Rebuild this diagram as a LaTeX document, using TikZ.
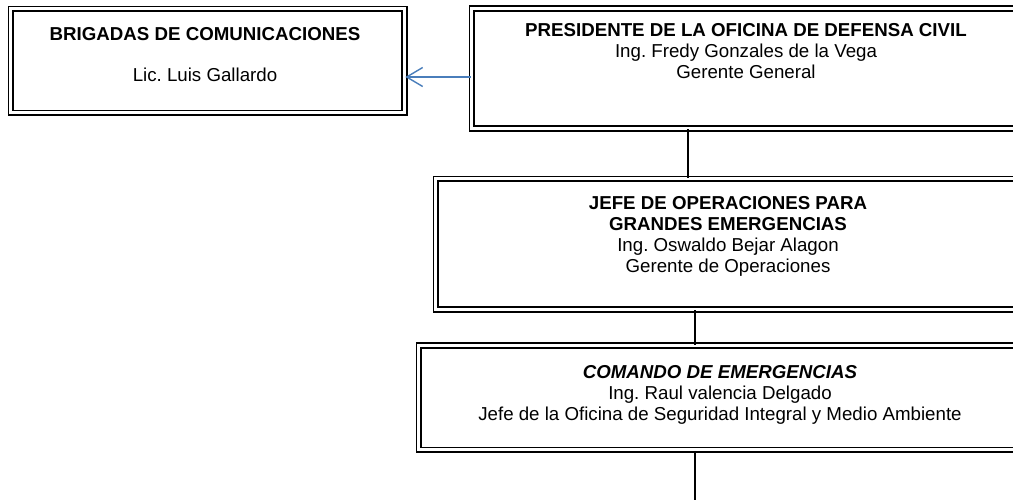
\documentclass[tikz,border=0pt]{standalone}
\usepackage{fontspec}
\setmainfont{Liberation Sans}
\usetikzlibrary{arrows.meta}
\definecolor{arrowblue}{HTML}{4A7EBB}
\frenchspacing
\begin{document}
\begin{tikzpicture}[x=1pt,y=-1pt,
  boxstyle/.style={draw=black, double=white, double distance=3pt, line width=1.8pt,
    rectangle, inner sep=0pt, anchor=north west},
  txt/.style={font=\fontsize{18.7}{21}\selectfont, align=center, anchor=north, inner sep=0pt},
  conn/.style={draw=black, line width=1.5pt},
  arr/.style={draw=arrowblue, line width=1.4pt, -{Straight Barb[length=16pt,width=19pt]}}]
\useasboundingbox (0,0) rectangle (1013,500);
\clip (0,0) rectangle (1013,500);
% boxes
\node[boxstyle, minimum width=393.5pt, minimum height=104pt] (b1) at (10,8) {};
\node[boxstyle, minimum width=550pt, minimum height=120pt] (b2) at (471,7.5) {};
\node[boxstyle, minimum width=586pt, minimum height=130.5pt] (b3) at (435,178) {};
\node[boxstyle, minimum width=604pt, minimum height=104.5pt] (b4) at (418,344.5) {};
% texts
\node[txt] (t1) at (205,27) {\textbf{BRIGADAS DE COMUNICACIONES}\\[20pt]Lic. Luis Gallardo};
\node[txt] (t2) at (746,23) {\textbf{PRESIDENTE DE LA OFICINA DE DEFENSA CIVIL}\\Ing. Fredy Gonzales de la Vega\\Gerente General};
\node[txt] (t3) at (728,196) {\textbf{JEFE DE OPERACIONES PARA}\\\textbf{GRANDES EMERGENCIAS}\\Ing. Oswaldo Bejar Alagon\\Gerente de Operaciones};
\node[txt] (t4) at (720,365) {\textbf{\itshape COMANDO DE EMERGENCIAS}\\Ing. Raul valencia Delgado\\Jefe de la Oficina de Seguridad Integral y Medio Ambiente};
% connectors
\coordinate (c23) at (688,0);
\coordinate (c34) at (695,0);
\coordinate (ay) at (0,77);
\coordinate (endb) at (695,500);
\draw[conn] (b2.south -| c23) -- (b3.north -| c23);
\draw[conn] (b3.south -| c34) -- (b4.north -| c34);
\draw[conn] (b4.south -| c34) -- (endb);
\draw[arr] (b2.west |- ay) -- (b1.east |- ay);
\end{tikzpicture}
\end{document}
